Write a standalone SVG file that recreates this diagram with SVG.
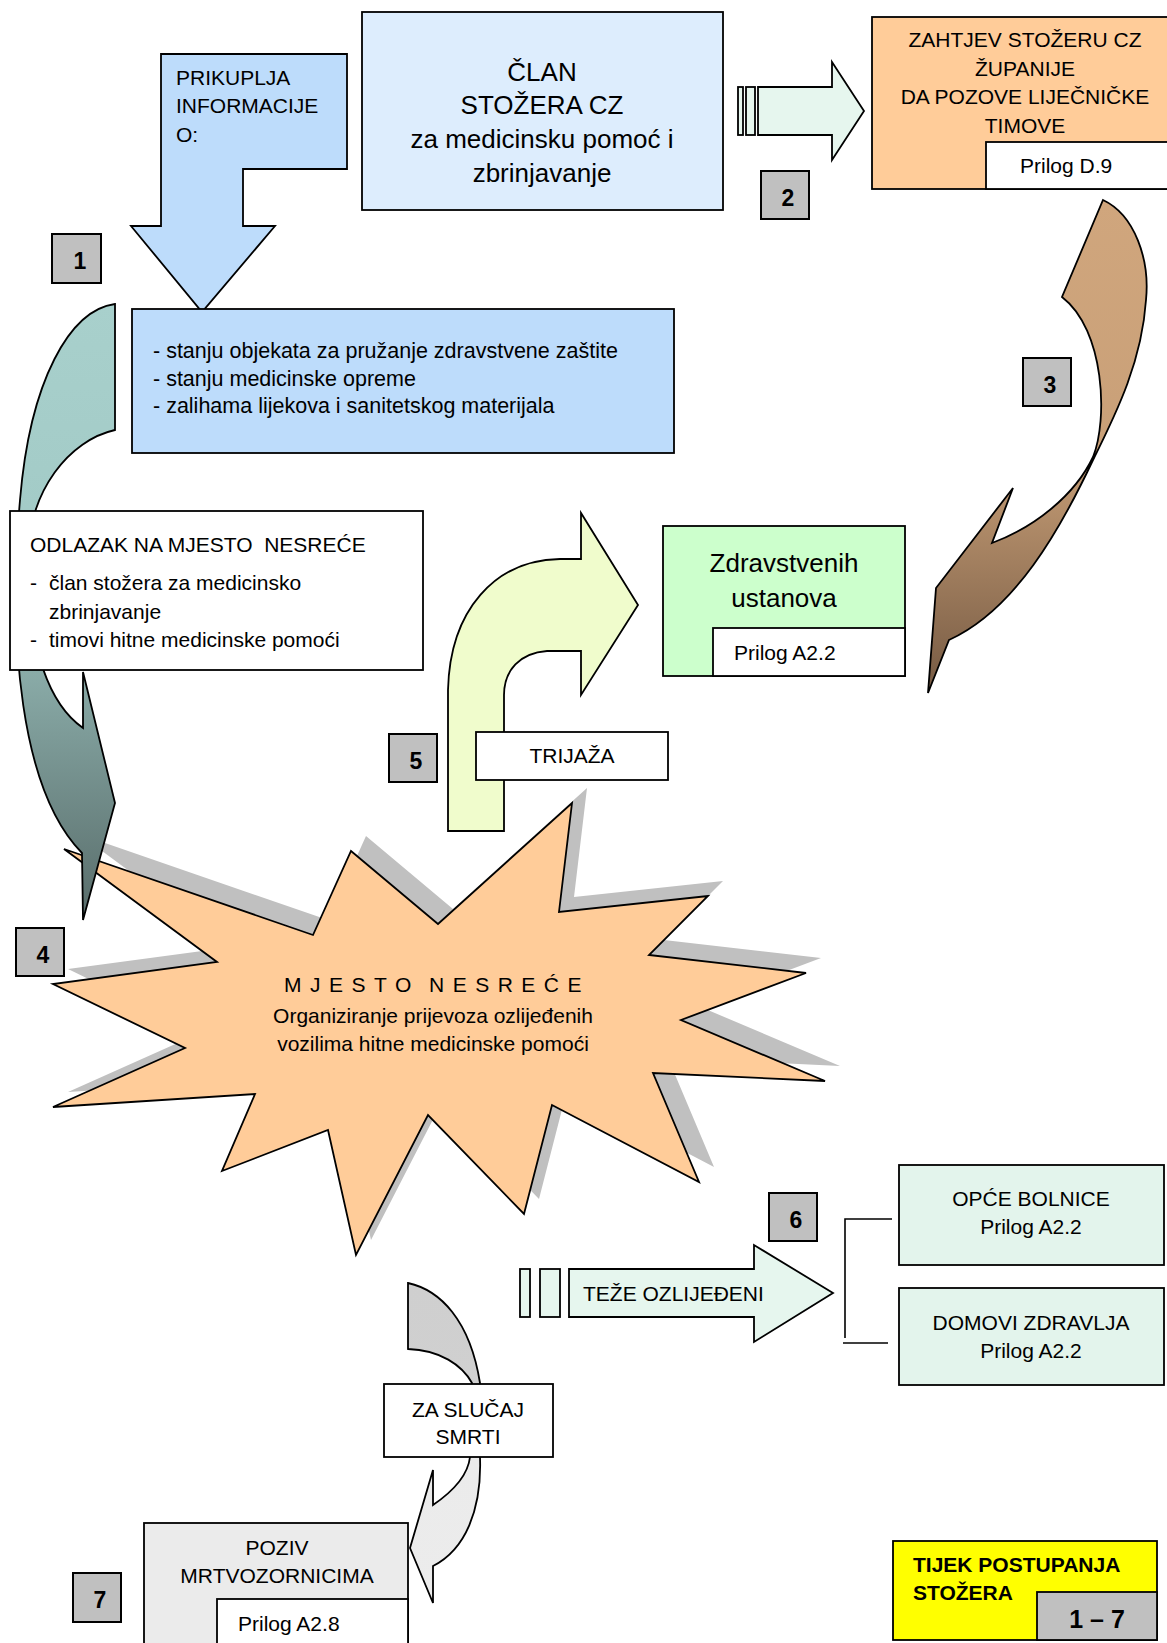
<svg xmlns="http://www.w3.org/2000/svg" width="1167" height="1643" viewBox="0 0 1167 1643">
  <defs>
    <style>
      .ln{stroke:#000;stroke-width:1.8;stroke-linejoin:miter}
      .thin{stroke:#000;stroke-width:1.6;fill:none}
      .t{font-family:"Liberation Sans",Arial,Helvetica,sans-serif;font-size:21px;fill:#000}
      .c{text-anchor:middle}
      .b{font-weight:bold}
      .pre{white-space:pre}
      .badge rect{fill:#c0c0c0;stroke:#000;stroke-width:2}
      .badge text{font-family:"Liberation Sans",Arial,Helvetica,sans-serif;font-weight:bold;font-size:23px;text-anchor:middle;fill:#000}
    </style>
    <linearGradient id="gTeal" gradientUnits="userSpaceOnUse" x1="0" y1="304" x2="0" y2="920">
      <stop offset="0" stop-color="#a8d0cc"/>
      <stop offset="0.4" stop-color="#a2cac6"/>
      <stop offset="1" stop-color="#586c6a"/>
    </linearGradient>
    <linearGradient id="gBrown" gradientUnits="userSpaceOnUse" x1="0" y1="200" x2="0" y2="693">
      <stop offset="0" stop-color="#d0a67d"/>
      <stop offset="0.5" stop-color="#c9a078"/>
      <stop offset="1" stop-color="#765a43"/>
    </linearGradient>
    <linearGradient id="gGray" gradientUnits="userSpaceOnUse" x1="0" y1="1283" x2="0" y2="1603">
      <stop offset="0" stop-color="#cfcfcf"/>
      <stop offset="0.32" stop-color="#d0d0d0"/>
      <stop offset="0.55" stop-color="#ebebeb"/>
      <stop offset="1" stop-color="#ececec"/>
    </linearGradient>
  </defs>

  <rect width="1167" height="1643" fill="#fff"/>

  <!-- accident site: starburst with offset shadow -->
  <g id="node-mjesto-nesrece">
    <polygon fill="#c0c0c0" transform="translate(15,-15)" points="64,849 313,935 351,851 438,924 572,803 559,912 708,896 649,955 806,973 681,1020 825,1081 653,1073 699,1182 552,1105 524,1214 428,1115 356,1255 328,1130 222,1171 255,1094 53,1107 185,1048 53,984 217,962"/>
    <polygon class="ln" fill="#ffcc99" points="64,849 313,935 351,851 438,924 572,803 559,912 708,896 649,955 806,973 681,1020 825,1081 653,1073 699,1182 552,1105 524,1214 428,1115 356,1255 328,1130 222,1171 255,1094 53,1107 185,1048 53,984 217,962"/>
    <text class="t" y="992" letter-spacing="8.5"><tspan x="284">MJESTO</tspan><tspan x="429">NESREĆE</tspan></text>
    <text class="t c" x="433" y="1023">Organiziranje prijevoza ozlijeđenih</text>
    <text class="t c" x="433" y="1051">vozilima hitne medicinske pomoći</text>
  </g>

  <!-- block arrows and brackets between the steps -->
  <g id="connectors">
    <!-- step 4: curved arrow down to the accident site -->
    <path class="ln" fill="url(#gTeal)" d="M115,304 C70,310 30,380 20,500 C8,640 20,790 82,853 L83,920 L115,803 L83,672 L83,728 C50,705 28,650 28,560 C28,490 70,440 115,430 Z"/>
    <!-- step 1: gathering information -->
    <g id="arrow-prikuplja">
      <polygon class="ln" fill="#bddcfb" points="161,54 347,54 347,169 243,169 243,226 275,226 202,312 131,226 161,226"/>
      <text class="t" x="176" y="85">PRIKUPLJA</text>
      <text class="t" x="176" y="113">INFORMACIJE</text>
      <text class="t" x="176" y="142">O:</text>
    </g>
    <!-- step 2: striped arrow to the county request -->
    <g fill="#e6f6ee">
      <rect class="ln" x="738" y="87" width="5" height="48"/>
      <rect class="ln" x="746" y="87" width="9" height="48"/>
      <polygon class="ln" points="758,87 832,87 832,62 864,111 832,160 832,135 758,135"/>
    </g>
    <!-- step 3: twisted curved arrow down -->
    <path class="ln" fill="url(#gBrown)" d="M1103,200 C1135,215 1150,260 1146,300 C1142,360 1118,410 1093,460 C1060,530 1015,610 949,640 L928,693 L936,588 L1013,488 L992,543 C1035,527 1075,495 1093,457 C1108,420 1105,330 1062,297 Z"/>
    <!-- step 5: triage arrow up and right -->
    <path class="ln" fill="#f0fccc" d="M448,831 L448,690 C450,610 495,560 560,559 L581,559 L581,513 L638,605 L581,695 L581,651 L547,651 C520,653 504,670 504,695 L504,831 Z"/>
    <!-- step 6: striped arrow for the seriously injured -->
    <g id="arrow-teze">
      <g fill="#e6f6ee">
        <rect class="ln" x="520" y="1269" width="10" height="48"/>
        <rect class="ln" x="540" y="1269" width="20" height="48"/>
        <polygon class="ln" points="569,1269 754,1269 754,1245 833,1293 754,1342 754,1317 569,1317"/>
      </g>
      <text class="t" x="583" y="1301">TEŽE OZLIJEĐENI</text>
    </g>
    <!-- bracket to the two destinations -->
    <path class="thin" d="M892,1219 L845,1219 L845,1338"/>
    <path class="thin" d="M843,1343 L888,1343"/>
    <!-- step 7: curved arrow in case of death -->
    <path class="ln" fill="url(#gGray)" d="M408,1283 C440,1290 470,1320 480,1383 L480,1457 C482,1510 465,1550 433,1566 L433,1603 L410,1548 L433,1470 L433,1505 C455,1490 468,1475 470,1457 L472,1383 C462,1365 440,1350 408,1349 Z"/>
  </g>

  <g id="node-clan-stozera">
    <rect class="ln" x="362" y="12" width="361" height="198" fill="#ddedfd"/>
    <g class="t c" style="font-size:26px">
      <text x="542" y="81">ČLAN</text>
      <text x="542" y="114">STOŽERA CZ</text>
      <text x="542" y="148">za medicinsku pomoć i</text>
      <text x="542" y="182">zbrinjavanje</text>
    </g>
  </g>

  <g id="node-zahtjev">
    <rect class="ln" x="872" y="17" width="310" height="172" fill="#ffcc99"/>
    <rect class="ln" x="986" y="142" width="196" height="47" fill="#fff"/>
    <text class="t c" x="1025" y="47">ZAHTJEV STOŽERU CZ</text>
    <text class="t c" x="1025" y="76">ŽUPANIJE</text>
    <text class="t c" x="1025" y="104">DA POZOVE LIJEČNIČKE</text>
    <text class="t c" x="1025" y="133">TIMOVE</text>
    <text class="t" x="1020" y="173">Prilog D.9</text>
  </g>

  <g id="node-informacije">
    <rect class="ln" x="132" y="309" width="542" height="144" fill="#bddcfb"/>
    <g class="t" style="font-size:21.5px">
      <text x="153" y="358">- stanju objekata za pružanje zdravstvene zaštite</text>
      <text x="153" y="386">- stanju medicinske opreme</text>
      <text x="153" y="413">- zalihama lijekova i sanitetskog materijala</text>
    </g>
  </g>

  <g id="node-odlazak">
    <rect class="ln" x="10" y="511" width="413" height="159" fill="#fff"/>
    <text class="t pre" x="30" y="552" xml:space="preserve">ODLAZAK NA MJESTO  NESREĆE</text>
    <text class="t" x="30" y="590">-</text>
    <text class="t" x="49" y="590">član stožera za medicinsko</text>
    <text class="t" x="49" y="619">zbrinjavanje</text>
    <text class="t" x="30" y="647">-</text>
    <text class="t" x="49" y="647">timovi hitne medicinske pomoći</text>
  </g>

  <g id="node-zdravstvenih">
    <rect class="ln" x="663" y="526" width="242" height="150" fill="#ccffcc"/>
    <rect class="ln" x="713" y="628" width="192" height="48" fill="#fff"/>
    <text class="t c" x="784" y="572" style="font-size:26px">Zdravstvenih</text>
    <text class="t c" x="784" y="607" style="font-size:26px">ustanova</text>
    <text class="t" x="734" y="660">Prilog A2.2</text>
  </g>

  <g id="node-trijaza">
    <rect class="ln" x="476" y="732" width="192" height="48" fill="#fff"/>
    <text class="t c" x="572" y="763">TRIJAŽA</text>
  </g>

  <g id="node-opce-bolnice">
    <rect class="ln" x="899" y="1165" width="265" height="100" fill="#e3f4ec"/>
    <text class="t c" x="1031" y="1206">OPĆE BOLNICE</text>
    <text class="t c" x="1031" y="1234">Prilog A2.2</text>
  </g>

  <g id="node-domovi-zdravlja">
    <rect class="ln" x="899" y="1288" width="265" height="97" fill="#e3f4ec"/>
    <text class="t c" x="1031" y="1330">DOMOVI ZDRAVLJA</text>
    <text class="t c" x="1031" y="1358">Prilog A2.2</text>
  </g>

  <g id="node-za-slucaj-smrti">
    <rect class="ln" x="384" y="1384" width="169" height="73" fill="#fff"/>
    <text class="t c" x="468" y="1417">ZA SLUČAJ</text>
    <text class="t c" x="468" y="1444">SMRTI</text>
  </g>

  <g id="node-poziv">
    <rect class="ln" x="144" y="1523" width="264" height="130" fill="#ebebeb"/>
    <rect class="ln" x="217" y="1599" width="191" height="54" fill="#fff"/>
    <text class="t c" x="277" y="1555">POZIV</text>
    <text class="t c" x="277" y="1583">MRTVOZORNICIMA</text>
    <text class="t" x="238" y="1631">Prilog A2.8</text>
  </g>

  <g id="node-tijek">
    <rect class="ln" x="893" y="1541" width="264" height="99" fill="#ffff00"/>
    <rect class="ln" x="1037" y="1592" width="120" height="48" fill="#c0c0c0"/>
    <text class="t b" x="913" y="1572">TIJEK POSTUPANJA</text>
    <text class="t b" x="913" y="1600">STOŽERA</text>
    <text class="t b c" x="1097" y="1628" style="font-size:25px">1 – 7</text>
  </g>

  <!-- step numbers -->
  <g id="badge-1" class="badge"><rect x="52" y="234" width="49" height="49"/><text x="80" y="269">1</text></g>
  <g id="badge-2" class="badge"><rect x="761" y="171" width="48" height="48"/><text x="788" y="206">2</text></g>
  <g id="badge-3" class="badge"><rect x="1023" y="358" width="48" height="48"/><text x="1050" y="393">3</text></g>
  <g id="badge-4" class="badge"><rect x="16" y="928" width="48" height="48"/><text x="43" y="963">4</text></g>
  <g id="badge-5" class="badge"><rect x="389" y="734" width="48" height="48"/><text x="416" y="769">5</text></g>
  <g id="badge-6" class="badge"><rect x="769" y="1193" width="48" height="48"/><text x="796" y="1228">6</text></g>
  <g id="badge-7" class="badge"><rect x="73" y="1573" width="48" height="49"/><text x="100" y="1608">7</text></g>
</svg>
